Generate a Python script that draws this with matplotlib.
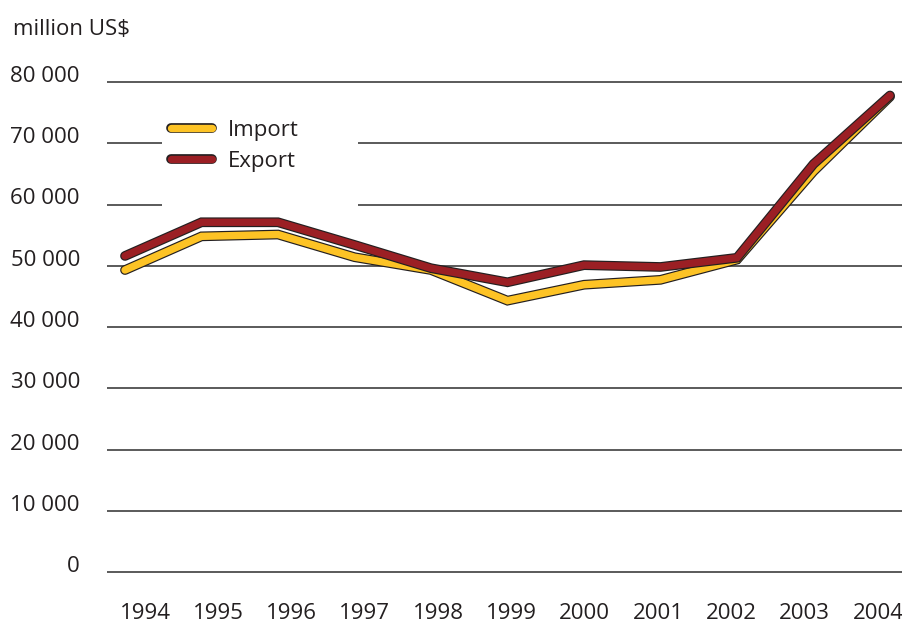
import matplotlib.pyplot as plt
import matplotlib.patheffects as pe
from matplotlib.patches import Rectangle
from matplotlib.transforms import blended_transform_factory

plt.rcParams['font.family'] = ['Open Sans', 'DejaVu Sans']

# vuodet ja arvot (million US$)
vuodet = [1994, 1995, 1996, 1997, 1998, 1999, 2000, 2001, 2002, 2003, 2004]
tuonti = [49300, 54800, 55100, 51400, 49300, 44300, 46900, 47700, 51000, 65400, 77600]
vienti = [51600, 57100, 57100, 53400, 49600, 47300, 50100, 49800, 51300, 66600, 77800]
y_arvot = [0, 10000, 20000, 30000, 40000, 50000, 60000, 70000, 80000]
y_tekstit = ["0", "10 000", "20 000", "30 000", "40 000", "50 000",
             "60 000", "70 000", "80 000"]

W, H = 903, 624
fig = plt.figure(figsize=(W / 100, H / 100), dpi=100)

# akseli pikseleinä: 0 -> y 572, 80000 -> y 82, 1994 -> x 125, 76.5 px / vuosi
px_y = 490 / 80000
px_x = 76.5
x_vas, x_oik = 107, 903
y_ala, y_yla = -1000, 81000
ala_px = 572 + 1000 * px_y
yla_px = 82 - 1000 * px_y
ax = fig.add_axes([x_vas / W, 1 - ala_px / H, (x_oik - x_vas) / W, (ala_px - yla_px) / H])
ax.set_xlim(1994 + (x_vas - 125) / px_x, 1994 + (x_oik - 125) / px_x)
ax.set_ylim(y_ala, y_yla)
for s in ax.spines.values():
    s.set_visible(False)
ax.set_xticks([])
ax.set_yticks([])

# vaakaviivat
for v in y_arvot:
    ax.axhline(v, color='#4d4d4d', lw=1.3, zorder=1)

# selitteen valkoinen tausta peittää viivat
ax.add_patch(Rectangle(((162 - x_vas) / (x_oik - x_vas), (ala_px - 215) / (ala_px - yla_px)),
                       (358 - 162) / (x_oik - x_vas), (215 - 108) / (ala_px - yla_px),
                       transform=ax.transAxes, facecolor='white', edgecolor='none', zorder=2))

reuna = [pe.Stroke(linewidth=7, foreground='#231f20'), pe.Normal()]
ax.plot(vuodet, tuonti, color='#fdc325', lw=5.3, solid_capstyle='round',
        solid_joinstyle='miter', path_effects=reuna, zorder=3, label='Import')
ax.plot(vuodet, vienti, color='#9b1f24', lw=5.3, solid_capstyle='round',
        solid_joinstyle='miter', path_effects=reuna, zorder=4, label='Export')

# y-akselin tekstit
ty = blended_transform_factory(fig.transFigure, ax.transData)
for v, t in zip(y_arvot, y_tekstit):
    ax.text(80 / W, v, t, transform=ty, ha='right', va='baseline',
            fontsize=16, color='#231f20')

# vuosien tekstit alhaalla
tx = blended_transform_factory(ax.transData, fig.transFigure)
for i, v in enumerate(vuodet):
    paikka = 1994 + (145 - 125 + 73.3 * i) / px_x
    ax.text(paikka, 1 - 619 / H, str(v), transform=tx, ha='center', va='baseline',
            fontsize=16, color='#231f20', clip_on=False)

fig.text(13 / W, 1 - 35 / H, "million US$", fontsize=16, color='#231f20', va='baseline')

leg = ax.legend(loc='upper left', bbox_to_anchor=(171 / W, 1 - 120 / H),
                bbox_transform=fig.transFigure, frameon=False, fontsize=16,
                handlelength=1.85, handletextpad=0.7, labelspacing=0.45, borderpad=0,
                borderaxespad=0)
for t in leg.get_texts():
    t.set_color('#231f20')

plt.savefig("out.png", dpi=100)
